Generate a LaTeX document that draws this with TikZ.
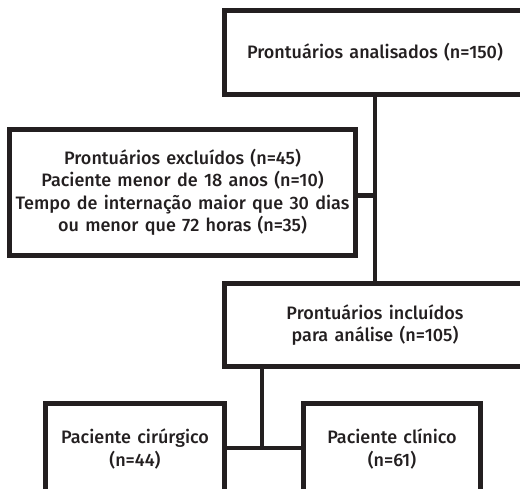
\documentclass[tikz,border=0pt]{standalone}
\usepackage{fontspec}
\setmainfont{Fira Sans}[UprightFont=* Medium,WordSpace=1.4]
\usepackage{tikz}
\usetikzlibrary{calc}
\definecolor{tinta}{RGB}{35,31,32}
\tikzstyle{box}=[draw=tinta,text=tinta,line width=5pt,align=center,inner sep=2pt,font=\fontsize{18}{22.5}\selectfont]

\begin{document}
\begin{tikzpicture}[x=1pt,y=-1pt,line width=4.5pt,draw=tinta]
\useasboundingbox (0,0) rectangle (520,488);
\node [box,minimum width=301pt,minimum height=84pt] (analisados) at (375,52.5) {Prontuários analisados (n=150)};
\node [box,minimum width=346pt,minimum height=126pt] (excluidos) at (182.5,192.5)
  {Prontuários excluídos (n=45)\\Paciente menor de 18 anos (n=10)\\Tempo de internação maior que 30 dias\\ou menor que 72 horas (n=35)};
\node [box,minimum width=301pt,minimum height=83pt] (incluidos) at (375,325) {Prontuários incluídos\\para análise (n=105)};
\node [box,minimum width=179pt,minimum height=91pt] (cirurgico) at (135,449) {Paciente cirúrgico\\(n=44)};
\node [box,minimum width=177pt,minimum height=91pt] (clinico) at (392,449) {Paciente clínico\\(n=61)};

% connectors
\coordinate (juncao) at ([yshift=-3pt]excluidos.east -| analisados.south);
\draw (analisados.south) -- (incluidos.north);
\draw ([yshift=-3pt]excluidos.east) -- (juncao);
\coordinate (ramo) at (262,448);
\draw (cirurgico.east |- ramo) -- (clinico.west |- ramo);
\draw (incluidos.south -| ramo) -- (ramo);
\end{tikzpicture}
\end{document}
